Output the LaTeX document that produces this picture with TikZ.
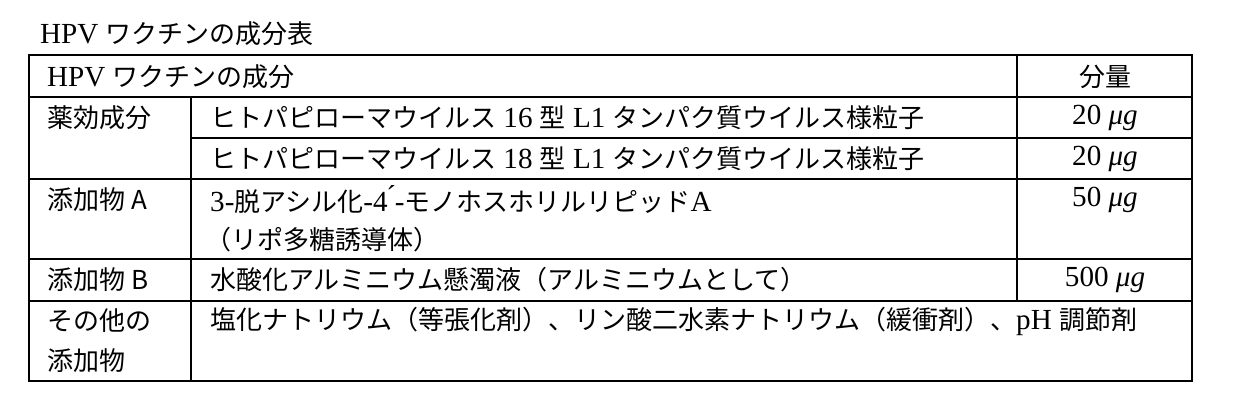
\documentclass[tikz,border=0pt]{standalone}
\usepackage{fontspec}
\setmainfont[Scale=1.12]{Liberation Serif}
\newfontfamily\cjk{Noto Sans CJK JP}
\newcommand{\J}[1]{{\cjk #1}}
\begin{document}
\begin{tikzpicture}[x=1pt,y=-1pt,
  txt/.style={anchor=west,inner sep=0pt,font=\fontsize{26}{30}\selectfont},
  ctr/.style={inner sep=0pt,font=\fontsize{26}{30}\selectfont},
  rule/.style={line width=1.7pt}]
\useasboundingbox (0,0) rectangle (1240,410);
\node[txt] (title) at (40,34) {HPV \J{ワクチンの成分表}};
\draw[rule] (29,55) rectangle (1192,381);
\draw[rule] (1017,55) -- (1017,301);
\draw[rule] (191,97) -- (191,381);
\draw[rule] (29,97) -- (1192,97);
\draw[rule] (191,138) -- (1192,138);
\draw[rule] (29,179) -- (1192,179);
\draw[rule] (29,259) -- (1192,259);
\draw[rule] (29,301) -- (1192,301);
\node[txt] (h1) at (47,77) {HPV \J{ワクチンの成分}};
\node[ctr] (h2) at (1105,77) {\J{分量}};
\node[txt] (c1) at (47,118) {\J{薬効成分}};
\node[txt] (d1) at (210,118) {\J{ヒトパピローマウイルス} 16 \J{型} L1 \J{タンパク質ウイルス様粒子}};
\node[ctr] (a1) at (1105,118) {20 \textit{μg}};
\node[txt] (d2) at (210,159) {\J{ヒトパピローマウイルス} 18 \J{型} L1 \J{タンパク質ウイルス様粒子}};
\node[ctr] (a2) at (1105,159) {20 \textit{μg}};
\node[txt] (c3) at (47,200) {\J{添加物 A}};
\node[txt] (d3) at (210,200) {3-\J{脱アシル化}-4\'{}-\J{モノホスホリルリピッド}A};
\node[txt] (d3b) at (205,240) {\J{（リポ多糖誘導体）}};
\node[ctr] (a3) at (1105,200) {50 \textit{μg}};
\node[txt] (c4) at (47,280) {\J{添加物 B}};
\node[txt] (d4) at (210,280) {\J{水酸化アルミニウム懸濁液（アルミニウムとして）}};
\node[ctr] (a4) at (1105,280) {500 \textit{μg}};
\node[txt] (c5) at (47,321) {\J{その他の}};
\node[txt] (c5b) at (47,361) {\J{添加物}};
\node[txt] (d5) at (210,321) {\J{塩化ナトリウム（等張化剤）、リン酸二水素ナトリウム（緩衝剤）、}pH \J{調節剤}};
\end{tikzpicture}
\end{document}
